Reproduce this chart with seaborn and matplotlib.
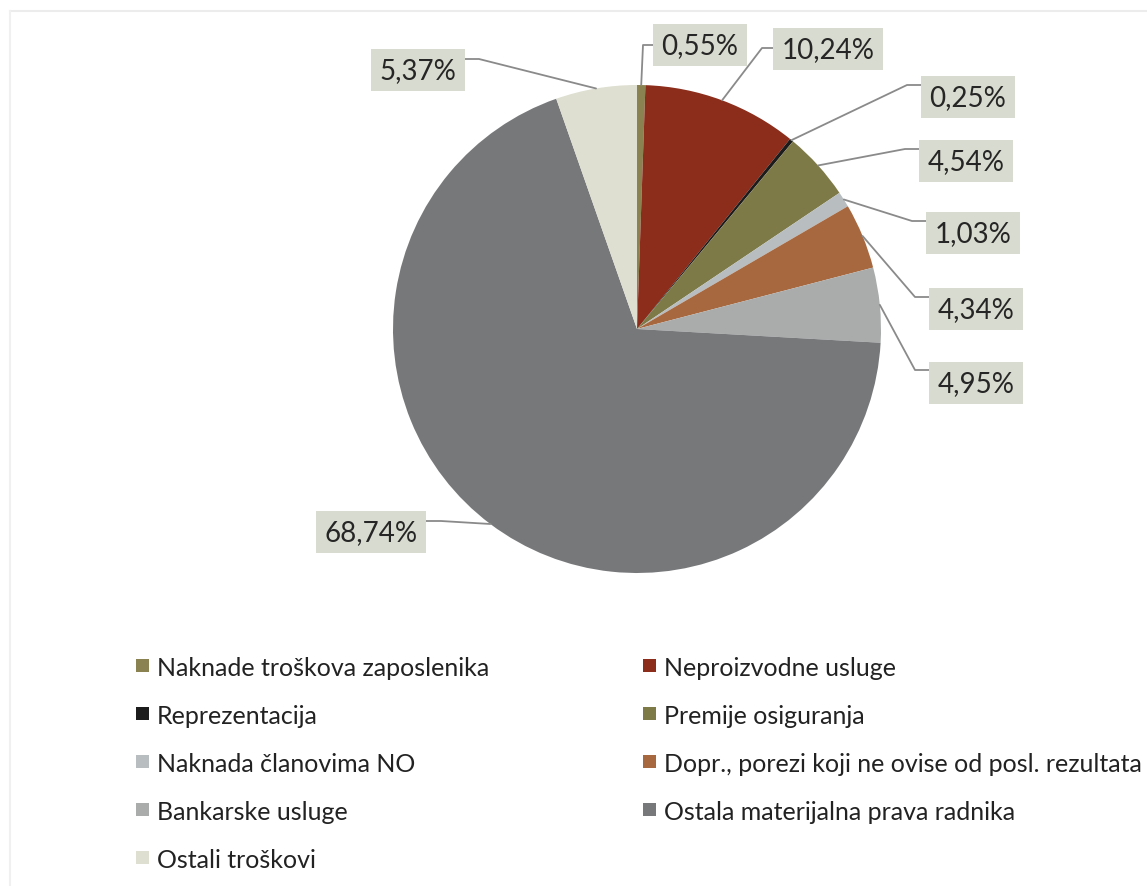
import matplotlib
matplotlib.use("Agg")
import matplotlib.pyplot as plt
import matplotlib.patches as mpatches
import numpy as np
import seaborn as sns

# ---- data ----
categories = [
    "Naknade troškova zaposlenika",
    "Neproizvodne usluge",
    "Reprezentacija",
    "Premije osiguranja",
    "Naknada članovima NO",
    "Dopr., porezi koji ne ovise od posl. rezultata",
    "Bankarske usluge",
    "Ostala materijalna prava radnika",
    "Ostali troškovi",
]
values = [0.55, 10.24, 0.25, 4.54, 1.03, 4.34, 4.95, 68.74, 5.37]
value_labels = ["0,55%", "10,24%", "0,25%", "4,54%", "1,03%", "4,34%", "4,95%", "68,74%", "5,37%"]
colors = ["#8a8250", "#8c2c1b", "#1c1c1c", "#7e7a48", "#b8bec0",
          "#a8683f", "#aaacac", "#77787a", "#dedfd0"]

# ---- layout (pixel coordinates, y from top) ----
W, H = 1147, 887
pie_cx, pie_cy, pie_r = 637, 330, 244
# label box centers, side of box where the leader attaches, vertical offset of attach point
label_pos = [(700, 46, "L", 0), (828, 50, "L", -1), (968, 98, "L", -12),
             (966, 162, "L", -12), (973, 234, "L", -12), (976, 310, "L", -12),
             (976, 384, "L", -13), (371, 533, "R", -11), (418, 71, "R", -11)]
box_half_w = [42, 51, 46, 46, 46, 46, 46, 55, 46]

sns.set_theme(style="white")
plt.rcParams["font.family"] = ["Lato", "DejaVu Sans"]

fig = plt.figure(figsize=(W / 100, H / 100), dpi=100)
ax = fig.add_axes([0, 0, 1, 1])


def Y(y):
    return H - y


wedges, _ = ax.pie(values, colors=colors, startangle=90, counterclock=False,
                   center=(pie_cx, Y(pie_cy)), radius=pie_r,
                   wedgeprops=dict(linewidth=0))
ax.set_xlim(0, W)
ax.set_ylim(0, H)
ax.set_aspect("auto")
ax.axis("off")

# faint frame of the scanned chart area
ax.plot([10, W], [Y(12), Y(12)], color="#ececec", lw=1.5)
ax.plot([10, 10], [Y(12), 0], color="#f0f0f0", lw=1.5)

# data labels with leader lines
total = sum(values)
cum = 0.0
for i, v in enumerate(values):
    mid = cum + v / 2
    cum += v
    ang = np.deg2rad(90 - 360 * mid / total)
    ax_x = pie_cx + pie_r * np.cos(ang)
    ax_y = pie_cy - pie_r * np.sin(ang)
    bx, by, side, dy = label_pos[i]
    hw = box_half_w[i]
    if side == "L":
        att = (bx - hw, by + dy)
        elb = (att[0] - 15, att[1])
    else:
        att = (bx + hw, by + dy)
        elb = (att[0] + 15, att[1])
    ax.plot([att[0], elb[0], ax_x], [Y(att[1]), Y(elb[1]), Y(ax_y)],
            color="#8a8a8a", lw=1.3, zorder=3)
    ax.text(bx, Y(by), value_labels[i], ha="center", va="center",
            fontsize=20, color="#262626", zorder=5,
            bbox=dict(boxstyle="square,pad=0.3", facecolor="#d8dbcf",
                      edgecolor="none"))

# legend (row-major, 2 columns)
for i, (name, c) in enumerate(zip(categories, colors)):
    row, col = divmod(i, 2)
    x0 = 136 + col * 507
    yc = 666 + row * 48.2
    ax.add_patch(mpatches.Rectangle((x0, Y(yc) - 6.5), 13, 13,
                                    facecolor=c, edgecolor="none"))
    ax.text(x0 + 21, Y(yc), name, ha="left", va="center_baseline",
            fontsize=18, color="#222222")

fig.savefig("out.png", dpi=100, facecolor="white")
